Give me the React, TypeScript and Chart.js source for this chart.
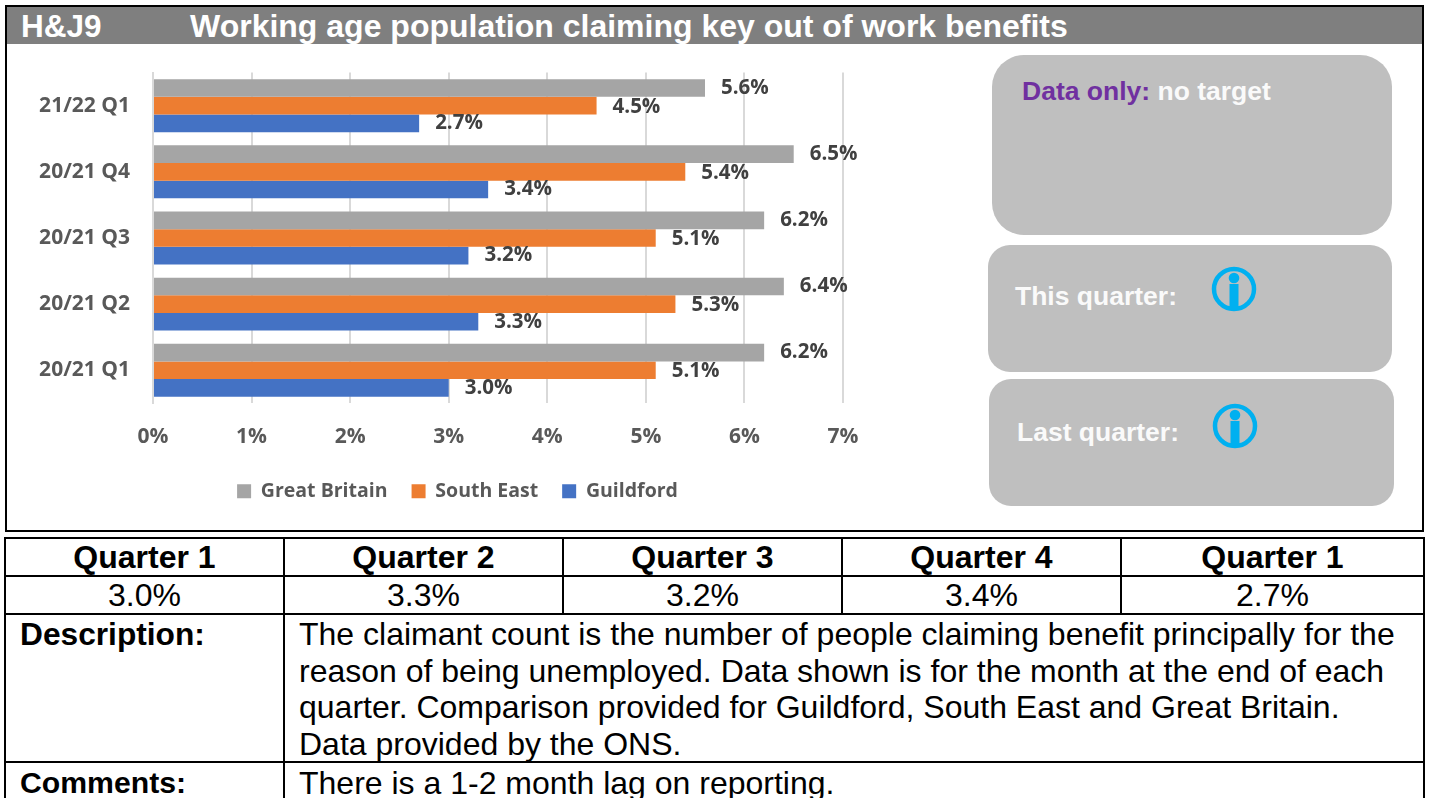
import React, { useEffect, useRef } from "react";
import { Chart, registerables } from "chart.js";

Chart.register(...registerables);

const categories = ["21/22 Q1", "20/21 Q4", "20/21 Q3", "20/21 Q2", "20/21 Q1"];
const greatBritain = [5.6, 6.5, 6.2, 6.4, 6.2];
const southEast = [4.5, 5.4, 5.1, 5.3, 5.1];
const guildford = [2.7, 3.4, 3.2, 3.3, 3.0];

const quarterHeadings = ["Quarter 1", "Quarter 2", "Quarter 3", "Quarter 4", "Quarter 1"];
const quarterValues = ["3.0%", "3.3%", "3.2%", "3.4%", "2.7%"];
const descriptionLines = [
  "The claimant count is the number of people claiming benefit principally for the",
  "reason of being unemployed. Data shown is for the month at the end of each",
  "quarter. Comparison provided for Guildford, South East and Great Britain.",
  "Data provided by the ONS.",
];

const SANS = '"Liberation Sans", Arial, sans-serif';
const CHART_FONT = '"Open Sans"';

// Prints each bar's value just past its end.
const valueLabels = {
  id: "valueLabels",
  afterDatasetsDraw(chart: any) {
    const { ctx } = chart;
    ctx.save();
    ctx.font = `700 20.5px ${CHART_FONT}`;
    ctx.fillStyle = "#404040";
    ctx.textAlign = "left";
    ctx.textBaseline = "middle";
    chart.data.datasets.forEach((ds: any, i: number) => {
      chart.getDatasetMeta(i).data.forEach((el: any, j: number) => {
        ctx.fillText(`${ds.data[j].toFixed(1)}%`, el.x + 16, el.y + (i === 1 ? 1 : 0));
      });
    });
    ctx.restore();
  },
};

// Centres the legend under the whole canvas instead of the padded area.
const legendShift = {
  id: "legendShift",
  afterLayout(chart: any) {
    chart.legend.left += 32;
    chart.legend.right += 32;
  },
};

function BarChart() {
  const ref = useRef<HTMLCanvasElement>(null);
  useEffect(() => {
    const chart = new Chart(ref.current!, {
      type: "bar",
      data: {
        labels: categories,
        datasets: [
          { label: "Great Britain", data: greatBritain, backgroundColor: "#A5A5A5" },
          { label: "South East", data: southEast, backgroundColor: "#ED7D31" },
          { label: "Guildford", data: guildford, backgroundColor: "#4472C4" },
        ],
      },
      plugins: [valueLabels, legendShift],
      options: {
        indexAxis: "y",
        responsive: false,
        animation: false,
        layout: { padding: { top: 13, right: 63 } },
        datasets: { bar: { categoryPercentage: 0.8, barPercentage: 1 } },
        scales: {
          x: {
            min: 0,
            max: 7,
            afterFit: (scale: any) => {
              scale.height -= 13;
            },
            ticks: {
              stepSize: 1,
              padding: 21,
              color: "#595959",
              font: { family: CHART_FONT, size: 21, weight: "700" },
              callback: (v: any) => `${v}%`,
            },
            grid: { color: "#D9D9D9", lineWidth: 2, drawTicks: false },
            border: { display: false },
          },
          y: {
            afterFit: (scale: any) => {
              scale.width = 145;
            },
            ticks: {
              padding: 23,
              color: "#595959",
              font: { family: CHART_FONT, size: 21, weight: "700" },
            },
            grid: { display: false, drawTicks: false },
            border: { color: "#D9D9D9", width: 2 },
          },
        },
        plugins: {
          title: { display: false },
          tooltip: { enabled: false },
          legend: {
            position: "bottom",
            labels: {
              boxWidth: 14,
              boxHeight: 14,
              padding: 24,
              color: "#595959",
              font: { family: CHART_FONT, size: 19.5, weight: "700" },
            },
          },
        },
      },
    } as any);
    return () => chart.destroy();
  }, []);
  return (
    <canvas
      ref={ref}
      width={898}
      height={474}
      style={{ position: "absolute", left: 8, top: 37, width: 898, height: 474 }}
    />
  );
}

function InfoIcon({ x, y }: { x: number; y: number }) {
  return (
    <svg width={46} height={46} viewBox="0 0 46 46" style={{ position: "absolute", left: x - 23, top: y - 23 }}>
      <circle cx={23} cy={23} r={20} fill="none" stroke="#00B0F0" strokeWidth={4.5} />
      <circle cx={23} cy={12} r={5.3} fill="#00B0F0" />
      <rect x={18.5} y={18} width={9} height={23} fill="#00B0F0" />
    </svg>
  );
}

function Panel(props: { left: number; top: number; width: number; height: number; radius: number }) {
  return (
    <div
      style={{
        position: "absolute",
        left: props.left,
        top: props.top,
        width: props.width,
        height: props.height,
        borderRadius: props.radius,
        background: "#BFBFBF",
      }}
    />
  );
}

function PanelText(props: { left: number; center: number; children: React.ReactNode }) {
  return (
    <div
      style={{
        position: "absolute",
        left: props.left,
        top: props.center - 20,
        font: `700 26.5px/40px ${SANS}`,
        whiteSpace: "nowrap",
        color: "#FAFAFA",
      }}
    >
      {props.children}
    </div>
  );
}

const cell: React.CSSProperties = {
  border: "2px solid #000",
  padding: 0,
  textAlign: "center",
  color: "#000",
  overflow: "hidden",
  lineHeight: "34px",
};

const textCell: React.CSSProperties = {
  ...cell,
  lineHeight: "36.6px",
  textAlign: "left",
  verticalAlign: "top",
  paddingLeft: 14,
};

export default function App() {
  return (
    <div
      style={{
        position: "fixed",
        left: 0,
        top: 0,
        width: 1430,
        height: 798,
        overflow: "hidden",
        background: "#fff",
        fontFamily: SANS,
      }}
    >
      <div
        style={{
          position: "absolute",
          left: 5,
          top: 5,
          width: 1415,
          height: 523,
          border: "2px solid #000",
        }}
      />
      <div style={{ position: "absolute", left: 7, top: 7, width: 1415, height: 37, background: "#7F7F7F" }} />
      <div
        style={{
          position: "absolute",
          left: 21,
          top: 8,
          font: `700 31.5px/37px ${SANS}`,
          color: "#fff",
          whiteSpace: "nowrap",
        }}
      >
        H&amp;J9
      </div>
      <div
        style={{
          position: "absolute",
          left: 190,
          top: 8,
          font: `700 32px/37px ${SANS}`,
          color: "#fff",
          whiteSpace: "nowrap",
        }}
      >
        Working age population claiming key out of work benefits
      </div>

      <BarChart />

      <Panel left={992} top={55} width={400} height={180} radius={32} />
      <Panel left={988} top={245} width={404} height={127} radius={22} />
      <Panel left={989} top={379} width={405} height={127} radius={22} />

      <PanelText left={1022} center={91}>
        <span style={{ color: "#7030A0" }}>Data only:</span> no target
      </PanelText>
      <PanelText left={1015} center={296}>This quarter:</PanelText>
      <PanelText left={1017} center={432}>Last quarter:</PanelText>
      <InfoIcon x={1234} y={289} />
      <InfoIcon x={1235} y={426} />

      <table
        style={{
          position: "absolute",
          left: 4,
          top: 537,
          width: 1419,
          tableLayout: "fixed",
          borderCollapse: "collapse",
          font: `32px/36.6px ${SANS}`,
        }}
      >
        <colgroup>
          <col style={{ width: 279 }} />
          <col style={{ width: 279 }} />
          <col style={{ width: 279 }} />
          <col style={{ width: 279 }} />
          <col style={{ width: 303 }} />
        </colgroup>
        <tbody>
          <tr style={{ height: 38 }}>
            {quarterHeadings.map((q, i) => (
              <td key={i} style={{ ...cell, fontWeight: 700 }}>{q}</td>
            ))}
          </tr>
          <tr style={{ height: 38 }}>
            {quarterValues.map((v, i) => (
              <td key={i} style={cell}>{v}</td>
            ))}
          </tr>
          <tr style={{ height: 148 }}>
            <td style={{ ...textCell, fontWeight: 700, fontSize: 31.7 }}>
              <div style={{ position: "relative", top: 1 }}>Description:</div>
            </td>
            <td colSpan={4} style={textCell}>
              <div style={{ position: "relative", top: 1 }}>
                {descriptionLines.map((line, i) => (
                  <div key={i} style={{ whiteSpace: "nowrap" }}>{line}</div>
                ))}
              </div>
            </td>
          </tr>
          <tr style={{ height: 40 }}>
            <td style={{ ...textCell, fontWeight: 700, fontSize: 30.2 }}>
              <div style={{ position: "relative", top: 2 }}>Comments:</div>
            </td>
            <td colSpan={4} style={textCell}>
              <div style={{ position: "relative", top: 2 }}>There is a 1-2 month lag on reporting.</div>
            </td>
          </tr>
        </tbody>
      </table>
    </div>
  );
}
